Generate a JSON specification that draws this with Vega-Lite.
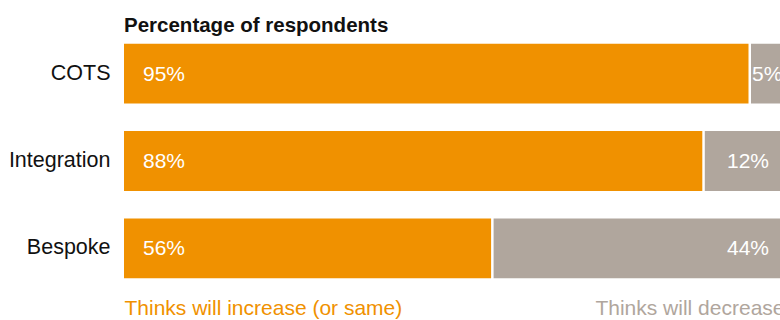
{
  "$schema": "https://vega.github.io/schema/vega-lite/v6.json",
  "width": 660,
  "height": 262,
  "autosize": {"type": "none"},
  "padding": {"left": 124, "top": 30, "right": 0, "bottom": 30},
  "background": "white",
  "config": {"view": {"stroke": null}, "font": "Liberation Sans"},
  "title": {"text": "Percentage of respondents", "anchor": "start", "frame": "group", "fontSize": 20.5, "fontWeight": "bold", "color": "#111111", "offset": -2, "dy": 20, "baseline": "alphabetic"},
  "data": {"values": [
    {"category": "COTS", "response": "Thinks will increase (or same)", "pct": 95},
    {"category": "COTS", "response": "Thinks will decrease", "pct": 5},
    {"category": "Integration", "response": "Thinks will increase (or same)", "pct": 88},
    {"category": "Integration", "response": "Thinks will decrease", "pct": 12},
    {"category": "Bespoke", "response": "Thinks will increase (or same)", "pct": 56},
    {"category": "Bespoke", "response": "Thinks will decrease", "pct": 44}
  ]},
  "transform": [
    {"stack": "pct", "groupby": ["category"], "sort": [{"field": "response", "order": "descending"}], "as": ["x0", "x1"]},
    {"calculate": "datum.pct + '%'", "as": "label"}
  ],
  "encoding": {
    "y": {"field": "category", "type": "nominal", "sort": ["COTS", "Integration", "Bespoke"],
      "scale": {"paddingInner": 0.314, "paddingOuter": 0.157},
      "axis": {"title": null, "ticks": false, "domain": false, "labelFontSize": 21.5, "labelColor": "#111111", "labelPadding": 14, "labelLimit": 200}}
  },
  "layer": [
    {
      "mark": {"type": "bar", "x2Offset": -2.5},
      "encoding": {
        "x": {"field": "x0", "type": "quantitative", "scale": {"domain": [0, 100]},
          "axis": {"values": [0, 100], "title": null, "grid": false, "ticks": false, "domain": false,
            "labelExpr": "datum.value == 0 ? 'Thinks will increase (or same)' : 'Thinks will decrease'",
            "labelAlign": {"condition": {"test": "datum.value == 0", "value": "left"}, "value": "right"},
            "labelColor": {"condition": {"test": "datum.value == 0", "value": "#F09100"}, "value": "#B0A69D"},
            "labelFontSize": 21, "labelPadding": 5, "labelBaseline": "top", "labelLimit": 500, "labelFlush": false, "labelOverlap": false, "labelBound": false}},
        "x2": {"field": "x1"},
        "color": {"field": "response", "type": "nominal",
          "scale": {"domain": ["Thinks will increase (or same)", "Thinks will decrease"], "range": ["#F09100", "#B0A69D"]},
          "legend": null}
      }
    },
    {
      "transform": [{"filter": "datum.response == 'Thinks will increase (or same)'"}],
      "mark": {"type": "text", "align": "left", "dx": 19, "dy": 1, "color": "white", "fontSize": 21},
      "encoding": {"x": {"field": "x0", "type": "quantitative"}, "text": {"field": "label"}}
    },
    {
      "transform": [{"filter": "datum.response == 'Thinks will decrease' && datum.pct >= 10"}],
      "mark": {"type": "text", "align": "right", "dx": -15, "dy": 1, "color": "white", "fontSize": 21},
      "encoding": {"x": {"field": "x1", "type": "quantitative"}, "text": {"field": "label"}}
    },
    {
      "transform": [{"filter": "datum.response == 'Thinks will decrease' && datum.pct < 10"}],
      "mark": {"type": "text", "align": "left", "dx": 1, "dy": 1, "color": "white", "fontSize": 21},
      "encoding": {"x": {"field": "x0", "type": "quantitative"}, "text": {"field": "label"}}
    }
  ]
}
